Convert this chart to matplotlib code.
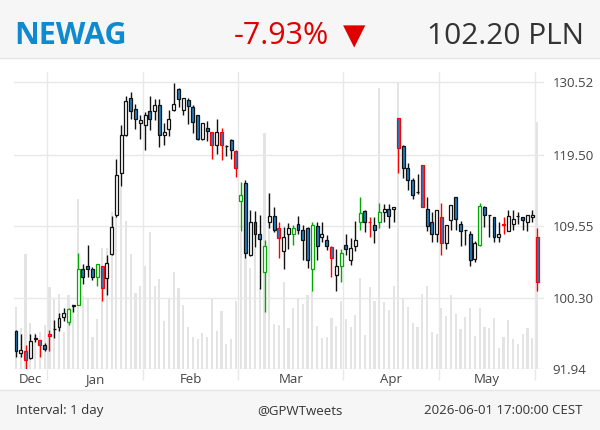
import matplotlib.pyplot as plt
from matplotlib.patches import Rectangle
from matplotlib.lines import Line2D
from matplotlib.ticker import NullLocator, NullFormatter
import numpy as np

plt.rcParams['font.family'] = ['Open Sans', 'DejaVu Sans']

# daily candles, 2025-12-17 .. 2026-06-01 (trading days only)
opens = [96.3, 93.8, 94.0, 93.2, 95.4, 95.25, 94.7,
         95.95, 96.5, 96.8, 98.0, 97.35, 99.35, 99.4, 103.9, 104.3, 103.9,
         102.95, 104.25, 102.8, 105.85, 111.0, 116.9, 122.45, 128.0, 126.3, 124.15,
         123.95, 126.0, 126.0, 126.95, 122.35, 123.35, 126.25, 129.55, 126.15, 127.7,
         126.7, 125.5, 121.75, 123.5, 122.85, 120.95, 122.85, 120.75, 121.7, 120.0,
         112.95, 115.35, 105.65, 110.0, 108.5, 103.5, 110.0, 110.9, 109.3, 106.15,
         108.4, 108.4, 109.75, 108.95, 109.3, 103.85, 109.55, 108.05, 107.65, 106.75,
         103.15, 104.25, 106.95, 105.0, 106.85, 110.0, 111.55, 110.05, 109.65, 110.0,
         111.35, 111.75, 111.75, 124.9, 120.7, 117.5, 115.9, 114.15, 117.95, 111.75,
         110.0, 108.4, 110.75, 107.3, 110.3, 113.4, 109.75, 108.98, 108.5, 105.2,
         106.95, 112.15, 111.0, 110.75, 108.0, 109.75, 108.85, 109.75, 110.9, 110.75,
         110.0, 110.75, 108.0]
highs = [96.4, 96.0, 94.7, 96.0, 96.0, 95.3, 94.9,
         96.4, 97.65, 98.45, 99.05, 99.05, 99.45, 106.0, 104.55, 106.95, 104.2,
         104.55, 104.25, 105.65, 110.85, 118.9, 123.9, 128.4, 128.95, 127.05, 125.5,
         125.9, 128.4, 127.9, 127.9, 124.15, 126.15, 130.5, 129.65, 128.1, 128.0,
         126.95, 125.5, 124.25, 124.55, 122.85, 124.8, 123.5, 120.95, 121.85, 120.15,
         115.5, 115.8, 111.65, 111.55, 111.0, 107.7, 113.95, 112.15, 110.0, 109.4,
         109.85, 109.65, 110.9, 109.65, 109.4, 110.0, 110.1, 110.0, 108.3, 106.85,
         106.45, 106.5, 108.4, 107.95, 110.2, 113.5, 111.65, 110.75, 110.75, 112.7,
         112.55, 112.55, 112.05, 124.9, 120.95, 118.35, 116.15, 116.75, 117.95, 113.5,
         111.45, 111.65, 112.7, 109.65, 112.35, 113.4, 110.2, 109.0, 108.85, 107.55,
         112.7, 112.25, 111.05, 110.75, 110.0, 110.75, 111.65, 111.65, 111.45, 110.75,
         111.0, 111.65, 109.2]
lows = [93.25, 93.3, 91.94, 93.06, 95.0, 93.25, 94.0,
        94.0, 95.55, 96.35, 97.5, 97.05, 98.6, 99.4, 102.0, 102.95, 102.45,
        101.7, 99.95, 100.7, 105.65, 110.75, 115.0, 122.2, 124.8, 123.25, 121.8,
        120.15, 123.1, 124.65, 120.6, 120.85, 122.2, 126.0, 126.7, 125.4, 124.0,
        122.75, 121.6, 121.6, 121.55, 118.9, 119.65, 118.65, 119.3, 118.9, 116.2,
        108.85, 105.3, 105.55, 106.75, 101.4, 98.6, 109.2, 108.75, 105.3, 103.9,
        106.5, 106.95, 108.5, 105.0, 104.0, 101.2, 105.0, 107.4, 106.3, 102.85,
        101.2, 102.3, 105.75, 104.35, 106.15, 108.95, 108.75, 108.05, 107.2, 109.2,
        110.1, 109.3, 110.1, 116.9, 116.15, 114.5, 113.15, 113.85, 112.05, 108.85,
        107.4, 107.4, 105.75, 106.45, 108.95, 108.95, 106.85, 106.95, 104.25, 104.85,
        106.85, 109.4, 108.05, 107.4, 107.4, 108.4, 108.85, 108.95, 109.75, 108.95,
        108.85, 110.0, 101.2]
closes = [94.0, 94.1, 92.95, 95.2, 95.45, 94.7, 94.2,
          95.7, 96.6, 97.9, 98.5, 98.9, 99.45, 103.9, 102.95, 103.9, 102.85,
          104.55, 101.5, 104.7, 109.35, 116.5, 122.35, 127.55, 126.0, 124.75, 124.7,
          125.5, 124.75, 126.95, 122.45, 122.85, 124.8, 127.05, 127.9, 128.0, 126.85,
          124.4, 121.75, 124.15, 122.95, 120.95, 122.85, 120.95, 120.8, 120.15, 117.5,
          113.8, 106.0, 110.1, 108.5, 107.75, 106.85, 110.9, 108.95, 107.85, 108.05,
          109.2, 109.2, 108.95, 107.7, 105.0, 109.65, 106.85, 108.5, 106.85, 105.3,
          104.25, 106.0, 106.5, 106.6, 107.65, 111.2, 110.0, 110.0, 108.95, 111.35,
          111.75, 110.9, 112.05, 120.4, 117.5, 115.9, 113.8, 114.1, 112.05, 109.55,
          108.4, 111.65, 107.2, 109.65, 112.35, 110.45, 108.85, 108.94, 105.1, 107.2,
          112.25, 111.0, 110.95, 108.0, 108.5, 109.7, 110.9, 110.4, 110.85, 110.3,
          111.0, 111.0, 102.2]
volumes = [18.5, 12.2, 34.4, 13.7, 10.7, 11.0, 13.2,
           24.5, 21.2, 22.4, 11.0, 22.2, 19.4, 50.9, 21.9, 21.4, 9.5,
           14.9, 36.2, 36.2, 47.2, 45.7, 54.7, 44.5, 34.4, 22.7, 25.0,
           31.0, 41.0, 25.0, 27.0, 14.5, 21.2, 29.2, 24.2, 19.2, 12.5,
           9.7, 8.9, 10.7, 9.5, 21.2, 11.5, 17.5, 7.4, 8.9, 20.5,
           41.2, 33.2, 30.2, 36.2, 24.2, 70.7, 52.7, 13.4, 13.2, 26.0,
           12.2, 18.2, 21.4, 19.4, 22.2, 23.4, 13.0, 9.2, 9.5, 15.2,
           13.0, 20.5, 14.9, 12.5, 16.2, 27.2, 10.2, 24.5, 20.5, 84.2,
           20.2, 17.7, 25.0, 86.0, 21.4, 18.5, 13.9, 12.7, 22.4, 24.9,
           11.0, 10.4, 18.2, 15.9, 22.2, 16.4, 11.9, 15.5, 18.2, 9.8,
           18.3, 12.7, 12.2, 15.4, 6.2, 9.7, 14.6, 8.9, 7.4, 10.4,
           12.4, 9.2, 74.0]
# outline colour of each candle: k = neutral, r = red, g = green (10 per group)
edge_codes = ("kkrkkrkrkk" "kgkgkkkgrk" "kkkkkkkkkk" "kkkkkkkkkk"
              "krkrkkrgkk" "kkgkkrkkgk" "kkgkkkrkgk" "kkgkrkgkkk"
              "rkkkkrkkkr" "kkkkkkkgkk" "kkrkkkkkkr")

month_names = ['Dec', 'Jan', 'Feb', 'Mar', 'Apr', 'May']
month_label_pos = [3.0, 16.5, 36.5, 57.5, 78.5, 98.5]
month_bounds = [6.5, 26.5, 46.5, 68.5, 88.5, 108.5]
price_ticks = [91.94, 100.30, 109.55, 119.50, 130.52]

fig = plt.figure(figsize=(6, 4.3), dpi=100)

# header and footer bands
fig.add_artist(Rectangle((0, 1 - 58 / 430), 1, 58 / 430, transform=fig.transFigure,
                         color='#f6f6f6', zorder=0))
fig.add_artist(Line2D([0, 1], [1 - 58 / 430] * 2, transform=fig.transFigure,
                      color='#e6e6e6', lw=1))
fig.add_artist(Rectangle((0, 0), 1, 40 / 430, transform=fig.transFigure,
                         color='#f6f6f6', zorder=0))
fig.add_artist(Line2D([0, 1], [40 / 430] * 2, transform=fig.transFigure,
                      color='#e6e6e6', lw=1))

fig.text(14 / 600, 1 - 44 / 430, 'NEWAG', fontsize=22, fontweight='bold',
         color='#0e8ad0', va='baseline')
fig.text(234 / 600, 1 - 44 / 430, '-7.93%', fontsize=22, color='#e00000', va='baseline')
fig.text(354 / 600, 1 - 44.5 / 430, '▼', fontsize=21, color='#e00000', va='baseline',
         ha='center', family='DejaVu Sans')
fig.text(584 / 600, 1 - 44 / 430, '102.20 PLN', fontsize=21.5, color='#333333',
         va='baseline', ha='right')

fig.text(16 / 600, 1 - 414 / 430, 'Interval: 1 day', fontsize=9.5, color='#333333',
         va='baseline')
fig.text(300 / 600, 1 - 414 / 430, '@GPWTweets', fontsize=9.5, color='#333333',
         va='baseline', ha='center')
fig.text(582 / 600, 1 - 414 / 430, '2026-06-01 17:00:00 CEST', fontsize=9.5,
         color='#333333', va='baseline', ha='right')

rect = [13.5 / 600, (430 - 369) / 430, (544 - 13.5) / 600, (369 - 72) / 430]
ax = fig.add_axes(rect)
axv = ax.twinx()

x = np.arange(len(closes))
o = np.array(opens)
c = np.array(closes)

# volume bars in the background
axv.bar(x, volumes, width=0.45, color='#e4e4e4', zorder=1)
axv.set_ylim(0, 89.1)
axv.set_yticks([])
for s in axv.spines.values():
    s.set_visible(False)
ax.set_zorder(axv.get_zorder() + 1)
ax.patch.set_visible(False)

palette = {'k': '#111111', 'r': '#ff0000', 'g': '#00aa00'}
ec = [palette[e] for e in edge_codes]
faces = ['white' if cc >= oo else '#1f7fc4' for oo, cc in zip(o, c)]
bottoms = np.minimum(o, c)
heights = np.maximum(np.abs(c - o), 0.04)

ax.vlines(x, lows, highs, colors=ec, lw=1, zorder=2)
ax.bar(x, heights, bottom=bottoms, width=0.62, color=faces, edgecolor=ec,
       linewidth=0.9, zorder=3)

ax.set_yscale('log')
ax.set_ylim(91.94, 132.2)
ax.set_xlim(-0.52, 110.46)
ax.yaxis.set_minor_locator(NullLocator())
ax.yaxis.set_minor_formatter(NullFormatter())
ax.set_yticks(price_ticks)
ax.set_yticklabels(['%.2f' % v for v in price_ticks])
ax.yaxis.tick_right()
ax.tick_params(axis='y', length=0, pad=6, labelsize=9.5, labelcolor='#444444')

ax.set_xticks(month_label_pos)
ax.set_xticklabels(month_names)
ax.set_xticks(month_bounds, minor=True)
ax.tick_params(axis='x', which='major', length=0, pad=3, labelsize=9.5,
               labelcolor='#444444')
ax.tick_params(axis='x', which='minor', length=8, width=1, color='#e8e8e8')

ax.grid(axis='y', color='#e8e8e8', lw=1)
ax.grid(axis='x', which='minor', color='#e8e8e8', lw=1)
ax.set_axisbelow(True)
for s in ax.spines.values():
    s.set_visible(False)

fig.savefig('out.png', dpi=100)
